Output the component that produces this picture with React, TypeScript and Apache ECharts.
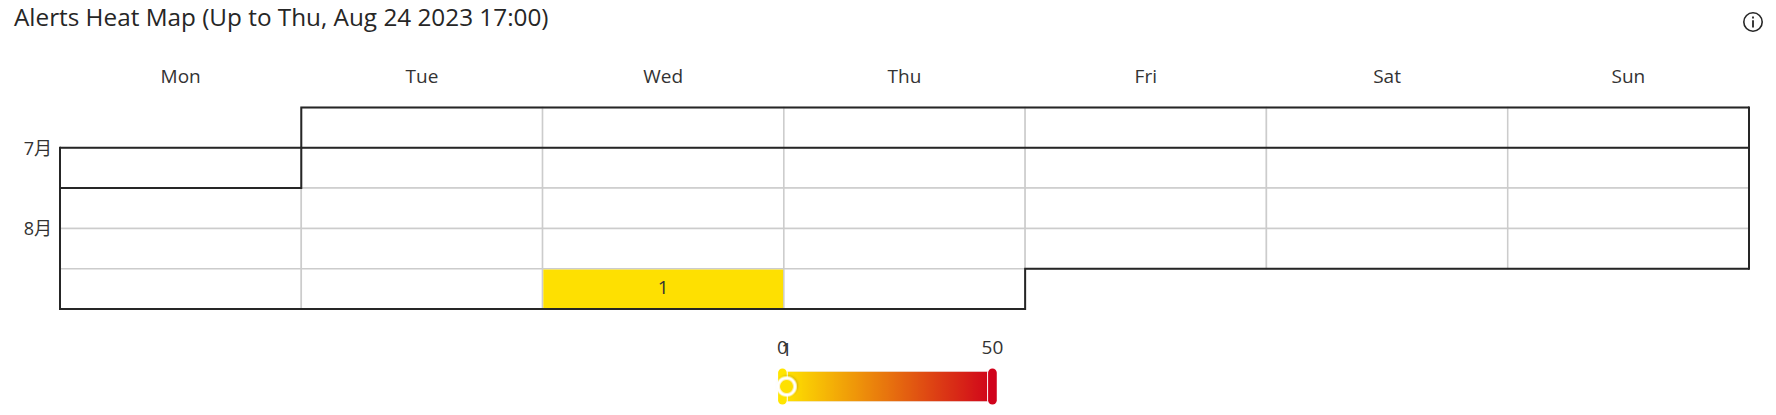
import React, { useEffect, useRef } from "react";
import * as echarts from "echarts";

const titleText = "Alerts Heat Map (Up to Thu, Aug 24 2023 17:00)";
const dateRange = ["2023-07-25", "2023-08-24"];
const heatData: [string, number][] = [["2023-08-23", 1]];
const dayNames = ["Sun", "Mon", "Tue", "Wed", "Thu", "Fri", "Sat"];
const monthNames = ["1月", "2月", "3月", "4月", "5月", "6月", "7月", "8月", "9月", "10月", "11月", "12月"];
const scaleColors = ["#FFE500", "#D0021B"];
const scaleTexts = ["0", "50", "1"];
const FONT = '"Open Sans", "Noto Sans CJK JP", sans-serif';

echarts.graphic.registerShape(
  "infoIcon",
  echarts.graphic.extendPath(
    "M10 0a10 10 0 1 0 0 20a10 10 0 1 0 0-20zM10 1.6a8.4 8.4 0 1 1 0 16.8a8.4 8.4 0 1 1 0-16.8zM9.1 4.6h1.8v1.9h-1.8zM9.1 8.2h1.8v7.4h-1.8z",
    {}
  )
);

export default function App() {
  const ref = useRef<HTMLDivElement>(null);
  useEffect(() => {
    document.body.style.margin = "0";
    const chart = echarts.init(ref.current!, null, { renderer: "svg" });
    chart.setOption({
      animation: false,
      backgroundColor: "#fff",
      textStyle: { fontFamily: FONT },
      title: {
        text: titleText,
        left: 14,
        top: 4,
        padding: 0,
        textStyle: { fontFamily: FONT, fontSize: 24.3, fontWeight: 400, color: "#262626" },
      },
      graphic: [
        { type: "infoIcon", x: 1743, y: 12, scaleX: 1, scaleY: 1, style: { fill: "#262626" } },
      ],
      tooltip: { show: false },
      calendar: {
        orient: "vertical",
        left: 60,
        top: 107.5,
        width: 1689,
        height: 201.5,
        range: dateRange,
        cellSize: ["auto", "auto"],
        itemStyle: { color: "#fff", borderWidth: 1.5, borderColor: "#ccc" },
        splitLine: { show: true, lineStyle: { color: "#262626", width: 2, type: "solid" } },
        yearLabel: { show: false },
        dayLabel: {
          firstDay: 1,
          nameMap: dayNames,
          margin: 22,
          fontFamily: FONT,
          fontSize: 19,
          color: "#333",
        },
        monthLabel: {
          nameMap: monthNames,
          margin: 8,
          fontFamily: FONT,
          fontSize: 18,
          color: "#333",
          padding: [0, 0, 3, 0],
        },
      },
      visualMap: {
        type: "continuous",
        min: 0,
        max: 50,
        calculable: true,
        orient: "horizontal",
        left: 762,
        top: 326,
        itemWidth: 30,
        itemHeight: 210,
        indicatorSize: 17,
        indicatorStyle: { borderColor: "#fff", borderWidth: 3 },
        inRange: { color: scaleColors },
        textStyle: { fontFamily: FONT, fontSize: 19, color: "#333" },
      },
      series: [
        {
          type: "heatmap",
          coordinateSystem: "calendar",
          data: heatData,
          emphasis: { disabled: true },
          label: {
            show: true,
            formatter: (p: any) => String(p.value[1]),
            fontFamily: FONT,
            fontSize: 19,
            color: "#333",
            offset: [0, -2],
          },
        },
      ],
    });
    // The reference shows the scale's hover indicator for the one cell: hover that cell.
    const zr: any = chart.getZr();
    zr.flush();
    const pos = chart.convertToPixel({ calendarIndex: 0 } as any, heatData[0][0] as any) as any;
    const px = Array.isArray(pos) ? pos : [663, 288];
    zr.handler.dispatch("mousemove", { zrX: px[0], zrY: px[1], type: "mousemove" });
    // The scale's labels sit a little higher in the reference.
    zr.storage.getRoots().forEach((root: any) => {
      const visit = (el: any) => {
        if (el.style && scaleTexts.includes(el.style.text) && !el.__hostTarget) {
          el.y -= 4;
          el.dirty();
        }
      };
      if (root.traverse) root.traverse(visit);
      else visit(root);
    });
    zr.flush();
    return () => chart.dispose();
  }, []);
  return (
    <div>
      {/* Hovering fades the scale's end labels; the reference keeps them solid. */}
      <style>{"svg text{opacity:1 !important;fill-opacity:1 !important}"}</style>
      <div ref={ref} style={{ width: 1776, height: 415 }} />
    </div>
  );
}
